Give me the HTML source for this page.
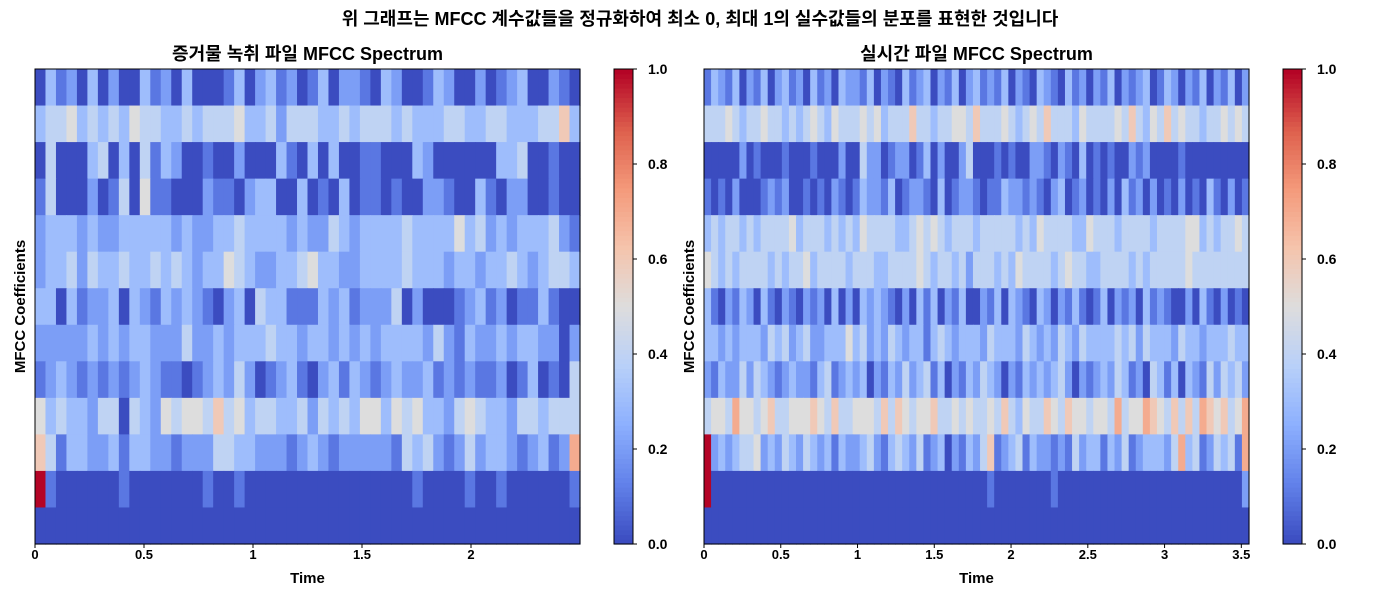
<!DOCTYPE html>
<html><head><meta charset="utf-8"><style>
body{margin:0;background:#fff;width:1400px;height:600px;overflow:hidden}
svg text{font-family:"Liberation Sans","Noto Sans CJK KR",sans-serif;font-weight:bold;fill:#000}
</style></head><body>
<svg id="fig" width="1400" height="600" xmlns="http://www.w3.org/2000/svg">
<text x="700" y="25" text-anchor="middle" font-size="18">위 그래프는 MFCC 계수값들을 정규화하여 최소 0, 최대 1의 실수값들의 분포를 표현한 것입니다</text>
</svg>
<script>
const leftRows = [
"0312030200312030001302312013022103200132002012300210",
"3445343435443343444533424443343444343334433443334463",
"0400034030413200100200031030300110003200000033400100",
"1400020140511000211023300301030110100221003102200100",
"2333232233333232233433332322432333343333534232333421",
"2334243343343432335432233453322333343332332334323443",
"3303122303213232102304331113231222402000123120113100",
"2222232323322242232333433233232323333242132232332202",
"1232121212321101232420123102313212322312121120130104",
"5343324404325455464534433424343553545332454332443444",
"6413322313322122244332221232122222143421242332123127",
"a100000010000000100100000000000000001000010010000001",
"0000000000000000000000000000000000000000000000000000"
];
const rightRows = [
"13213021302312031203221302103123021302312130210321031202130212301320213021302",
"44454344544343454354445453444644344554644454345464443544445464354645443445454",
"00000201000100010002004220122013020024000101002210210301010021200001000000000",
"10102000121200101021013221301221030122101132212102301201020312020102010310201",
"34344343444453444343435444433454543444344444343544443354443444434444553434454",
"54343444434344534444344433444454344342444343544443454433444434344444544444444",
"31021320310210212030203232102031302130021303210320213101302120312100203102010",
"33232333243423422333534232432331343233324333243232432433334342433324332333433",
"21322424321232213412323021324234130213243202132323420212324312043130321424342",
"45547554564455565464455546465455644545445464354465465545547455765464647656457",
"a2323445232432432313223421343241230213246123413221214233132412333247341243417",
"a0000000000000000000000000000000000000001000000001000000000000000000000000002",
"00000000000000000000000000000000000000000000000000000000000000000000000000000"
];
const leftTicks = [0,0.5,1,1.5,2];
const leftTickLabels = ["0","0.5","1","1.5","2"];
const rightTicks = [0,0.5,1,1.5,2,2.5,3,3.5];
const rightTickLabels = ["0","0.5","1","1.5","2","2.5","3","3.5"];
const cbTicks = [0,0.2,0.4,0.6,0.8,1.0];
const cbTickLabels = ["0.0","0.2","0.4","0.6","0.8","1.0"];

const NS="http://www.w3.org/2000/svg";
const svg=document.getElementById('fig');
const cmap=[[59,76,192],[98,130,234],[141,176,254],[184,208,249],[221,221,221],[245,196,173],[244,154,123],[222,96,77],[180,4,38]];
function color(v){v=Math.max(0,Math.min(1,v));const t=v*8;const i=Math.min(7,Math.floor(t));const f=t-i;const a=cmap[i],b=cmap[i+1];
return `rgb(${Math.round(a[0]+(b[0]-a[0])*f)},${Math.round(a[1]+(b[1]-a[1])*f)},${Math.round(a[2]+(b[2]-a[2])*f)})`;}
function mk(tag,attrs,parent){const e=document.createElementNS(NS,tag);for(const k in attrs)e.setAttribute(k,attrs[k]);(parent||svg).appendChild(e);return e;}

function panel(rows,ticks,labels,x0,x1,tMax,title,cbx,prefix){
  const y0=69,y1=544,H=y1-y0;
  const g=mk('g',{});
  
  
  const rh=H/rows.length;
  rows.forEach((row,r)=>{
    const cw=(x1-x0)/row.length;
    for(let c=0;c<row.length;c++){
      const v=parseInt(row[c],16)/10;
      const rect=mk('rect',{x:(x0+c*cw).toFixed(2),y:(y0+r*rh).toFixed(2),width:(cw+0.6).toFixed(2),height:(rh+0.6).toFixed(2),fill:color(v)},g);
      
      
    }
  });
  const fr=mk('rect',{x:x0,y:y0,width:x1-x0,height:H,fill:'none',stroke:'#000','stroke-width':1});
  
  
  const sx=t=>x0+t/tMax*(x1-x0);
  ticks.forEach((t,i)=>{
    const x=sx(t);
    const tk=mk('line',{x1:x,x2:x,y1:y1,y2:y1+4,stroke:'#000'});
    
    
    const tl=mk('text',{x:x,y:y1+15,'text-anchor':'middle','font-size':13});
    tl.textContent=labels[i];
    
    
  });
  const xl=mk('text',{x:(x0+x1)/2,y:583,'text-anchor':'middle','font-size':15});
  xl.textContent='Time';
  
  
  const yl=mk('text',{x:0,y:0,'text-anchor':'middle','font-size':15,transform:`translate(${x0-10},${(y0+y1)/2}) rotate(-90)`});
  yl.textContent='MFCC Coefficients';
  
  
  const tt=mk('text',{x:(x0+x1)/2,y:60,'text-anchor':'middle','font-size':18});
  tt.textContent=title;
  
  
  const cg=mk('g',{});
  
  
  const n=100;
  for(let i=0;i<n;i++){
    const v=i/(n-1);
    mk('rect',{x:cbx,y:(y1-(i+1)*H/n).toFixed(2),width:19,height:(H/n+0.6).toFixed(2),fill:color(v)},cg);
  }
  mk('rect',{x:cbx,y:y0,width:19,height:H,fill:'none',stroke:'#000'},cg);
  cbTicks.forEach((t,i)=>{
    const y=y1-t*H;
    mk('line',{x1:cbx+19,x2:cbx+23,y1:y,y2:y,stroke:'#000'},cg);
    const l=mk('text',{x:cbx+34,y:y+5,'font-size':14},cg);
    l.textContent=cbTickLabels[i];
    
    
  });
}
panel(leftRows,leftTicks,leftTickLabels,35,580,2.5,'증거물 녹취 파일 MFCC Spectrum',614,'left');
panel(rightRows,rightTicks,rightTickLabels,704,1249,3.55,'실시간 파일 MFCC Spectrum',1283,'right');
</script>
</body></html>
